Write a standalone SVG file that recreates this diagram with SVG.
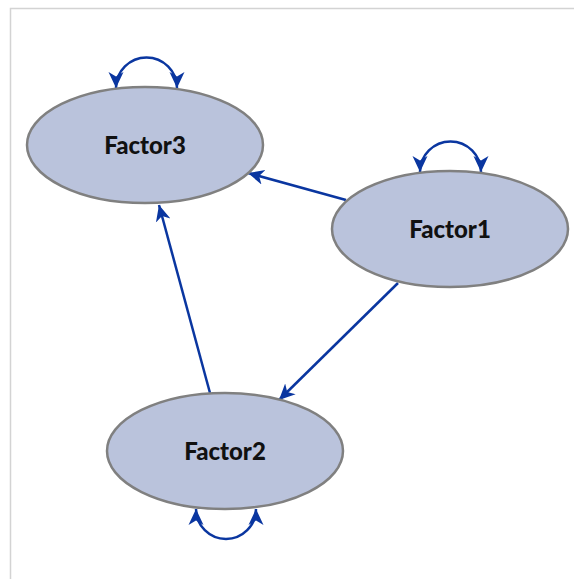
<svg xmlns="http://www.w3.org/2000/svg" width="574" height="579" viewBox="0 0 574 579">
<defs>
<style>
.node ellipse{fill:#bac3dc;stroke:#808080;stroke-width:2.5}
.node text{font-family:Lato,"Liberation Sans",sans-serif;font-weight:900;font-size:24px;fill:#111;text-anchor:middle;dominant-baseline:central}
.edge{fill:none;stroke:#0a36a0;stroke-width:2.5}
</style>
<marker id="ah" markerUnits="userSpaceOnUse" markerWidth="20" markerHeight="18" refX="16" refY="7.5" orient="auto-start-reverse" viewBox="0 0 20 15">
<path d="M0,0 L16,7.5 L0,15 L4.5,7.5 z" fill="#0a36a0"/>
</marker>
</defs>
<rect width="574" height="579" fill="#fff"/>
<path d="M10.5,579 V8.5 H574" fill="none" stroke="#d3d3d3" stroke-width="1.5"/>
<g id="connectors">
<path class="edge" d="M346,200 L248,173" marker-end="url(#ah)"/>
<path class="edge" d="M398,283 L279,400" marker-end="url(#ah)"/>
<path class="edge" d="M210,393 L159,205" marker-end="url(#ah)"/>
<path class="edge" d="M116,88 A30.5,30.5 0 0 1 177,88" marker-start="url(#ah)" marker-end="url(#ah)"/>
<path class="edge" d="M420,172 A30.5,30.5 0 0 1 481,172" marker-start="url(#ah)" marker-end="url(#ah)"/>
<path class="edge" d="M196,509 A30,30 0 0 0 256,509" marker-start="url(#ah)" marker-end="url(#ah)"/>
</g>
<g id="Factor3" class="node"><ellipse cx="145" cy="145" rx="118" ry="58"/><text x="145" y="144">Factor3</text></g>
<g id="Factor1" class="node"><ellipse cx="450" cy="229" rx="118" ry="58"/><text x="450" y="228">Factor1</text></g>
<g id="Factor2" class="node"><ellipse cx="225" cy="451" rx="118" ry="58"/><text x="225" y="450">Factor2</text></g>
</svg>
